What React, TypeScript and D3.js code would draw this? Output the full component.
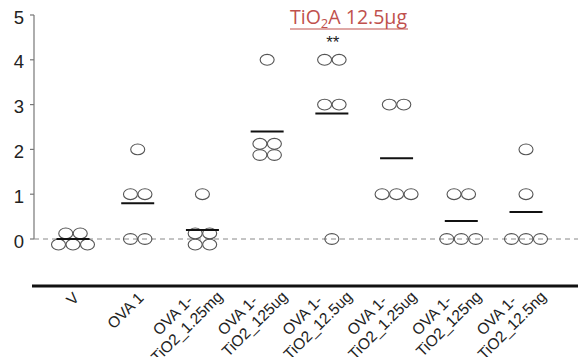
import React from "react";
import * as d3 from "d3";

const categories = [
  "V",
  "OVA 1",
  "OVA 1-|TiO2_1.25mg",
  "OVA 1-|TiO2_125ug",
  "OVA 1-|TiO2_12.5ug",
  "OVA 1-|TiO2_1.25ug",
  "OVA 1-|TiO2_125ng",
  "OVA 1-|TiO2_12.5ng",
];

const scores: number[][] = [
  [0, 0, 0, 0, 0],
  [2, 1, 1, 0, 0],
  [1, 0, 0, 0, 0],
  [4, 2, 2, 2, 2],
  [4, 4, 3, 3, 0],
  [3, 3, 1, 1, 1],
  [1, 1, 0, 0, 0],
  [2, 1, 0, 0, 0],
];

const yTicks = [0, 1, 2, 3, 4, 5];
const highlightIndex = 4;
const significance = "**";

const W = 578;
const H = 357;

export default function App() {
  const x = d3.scalePoint<string>().domain(categories).range([73, 526]);
  const y = d3.scaleLinear().domain([0, 5]).range([239, 15]);

  const dx = 14.5;
  const dyRow = 5.6;

  const dots: { cx: number; cy: number; key: string }[] = [];
  categories.forEach((c, gi) => {
    const grouped = d3.group(scores[gi], (v) => v);
    grouped.forEach((arr, v) => {
      const n = arr.length;
      const rows: number[] = n <= 3 ? [n] : [Math.floor(n / 2), Math.ceil(n / 2)];
      rows.forEach((count, ri) => {
        const off = rows.length === 1 ? 0 : ri === 0 ? -dyRow : dyRow;
        for (let k = 0; k < count; k++) {
          dots.push({
            cx: (x(c) as number) + (k - (count - 1) / 2) * dx,
            cy: y(v) + off,
            key: `${gi}-${v}-${ri}-${k}`,
          });
        }
      });
    });
  });

  const x0 = 34;
  const labelFont = "'Liberation Sans', Arial, sans-serif";

  return (
    <svg
      width={W}
      height={H}
      style={{ position: "absolute", left: 0, top: 0, background: "#fff" }}
      fontFamily={labelFont}
    >
      {/* y axis */}
      <line x1={x0} x2={x0} y1={y(5)} y2={y(0)} stroke="#777" strokeWidth={1.2} />
      {yTicks.map((t) => (
        <g key={t}>
          <line x1={x0 - 4} x2={x0} y1={y(t)} y2={y(t)} stroke="#777" strokeWidth={1.2} />
          <text
            x={24}
            y={y(t) + 2}
            textAnchor="end"
            dominantBaseline="central"
            fontSize={18.5}
            fill="#222"
          >
            {t}
          </text>
        </g>
      ))}

      {/* zero dashed line */}
      <line
        x1={x0}
        x2={W}
        y1={y(0)}
        y2={y(0)}
        stroke="#888"
        strokeWidth={1}
        strokeDasharray="5,4"
      />

      {/* dots */}
      {dots.map((d) => (
        <ellipse
          key={d.key}
          cx={d.cx}
          cy={d.cy}
          rx={7}
          ry={5.4}
          fill="#fff"
          fillOpacity={0}
          stroke="#555"
          strokeWidth={1.1}
        />
      ))}

      {/* means */}
      {categories.map((c, gi) => {
        const m = d3.mean(scores[gi]) as number;
        const cx = x(c) as number;
        return (
          <line
            key={c}
            x1={cx - 16.5}
            x2={cx + 16.5}
            y1={y(m)}
            y2={y(m)}
            stroke="#111"
            strokeWidth={2}
          />
        );
      })}

      {/* significance */}
      <text
        x={(x(categories[highlightIndex]) as number) + 1}
        y={48}
        textAnchor="middle"
        fontSize={17}
        fill="#222"
      >
        {significance}
      </text>

      {/* title */}
      <text
        x={290}
        y={24}
        fontSize={19.5}
        fill="#c0504d"
        fontFamily="'Open Sans', sans-serif"
        textLength={117}
        lengthAdjust="spacingAndGlyphs"
      >
        TiO
        <tspan fontSize={13} dy={4}>2</tspan>
        <tspan dy={-4}>A 12.5µg</tspan>
      </text>
      <line x1={290} x2={408} y1={29} y2={29} stroke="#c0504d" strokeWidth={1.2} />

      {/* bottom thick line */}
      <line x1={32} x2={W} y1={286} y2={286} stroke="#111" strokeWidth={3} />

      {/* category labels */}
      {categories.map((c) => {
        const parts = c.split("|");
        const ax = (x(c) as number) + 7;
        const ay = 299;
        return (
          <g key={c} transform={`translate(${ax},${ay}) rotate(-45)`}>
            {parts.length === 1 ? (
              <text x={0} y={0} textAnchor="end" fontSize={15.5} fill="#222">
                {parts[0]}
              </text>
            ) : (
              <>
                <text x={-13} y={-9} textAnchor="end" fontSize={15.5} fill="#222">
                  {parts[0]}
                </text>
                <text x={11} y={9} textAnchor="end" fontSize={15.5} fill="#222">
                  {parts[1]}
                </text>
              </>
            )}
          </g>
        );
      })}
    </svg>
  );
}
